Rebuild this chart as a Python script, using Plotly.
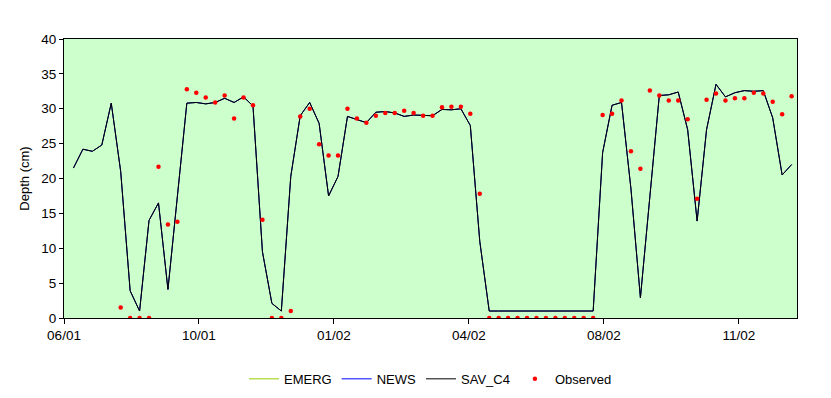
import datetime as dt
import plotly.graph_objects as go

# ---- data ----
start_date = dt.date(2001, 7, 5)          # first weekly model output
sav_c4 = [21.5, 24.2, 23.9, 24.8, 30.8, 21.0, 3.9, 1.0, 14.0, 16.5,
          4.1, 17.0, 30.8, 30.9, 30.7, 30.9, 31.5, 30.9, 31.7, 30.4,
          9.5, 2.1, 1.0, 20.3, 29.0, 30.9, 27.9, 17.5, 20.3, 28.9,
          28.5, 28.0, 29.5, 29.6, 29.4, 28.9, 29.1, 29.0, 29.0, 29.9,
          29.85, 30.0, 27.6, 11.0, 1.0, 1.0, 1.0, 1.0, 1.0, 1.0,
          1.0, 1.0, 1.0, 1.0, 1.0, 1.0, 23.7, 30.5, 30.9, 18.5,
          2.9, 17.5, 31.9, 32.0, 32.4, 27.0, 13.9, 27.0, 33.5, 31.7,
          32.3, 32.6, 32.5, 32.6, 28.7, 20.5, 22.0]
emerg = list(sav_c4)
news = list(sav_c4)
obs_start_week = 5
observed = [1.5, 0, 0, 0, 21.7, 13.4, 13.8, 32.8, 32.3, 31.6,
            30.9, 31.9, 28.6, 31.6, 30.5, 14.1, 0, 0, 1.0, 28.9,
            30.0, 24.9, 23.3, 23.3, 30.0, 28.6, 28.0, 29.0, 29.4, 29.4,
            29.7, 29.4, 29.0, 29.0, 30.2, 30.3, 30.3, 29.3, 17.8, 0,
            0, 0, 0, 0, 0, 0, 0, 0, 0, 0,
            0, 29.1, 29.3, 31.2, 23.9, 21.4, 32.6, 31.9, 31.2, 31.2,
            28.5, 17.1, 31.3, 32.2, 31.2, 31.5, 31.5, 32.3, 32.2, 31.0,
            29.2, 31.8]
axis_start = "2001-06-28"
axis_end = "2002-12-23"

model_dates = [start_date + dt.timedelta(weeks=i) for i in range(len(sav_c4))]
obs_dates = [start_date + dt.timedelta(weeks=obs_start_week + i) for i in range(len(observed))]

FONT = "Liberation Sans, Arial, sans-serif"

fig = go.Figure()
fig.add_trace(go.Scatter(x=model_dates, y=emerg, name="EMERG", mode="lines",
                         line=dict(color="#99CC00", width=1)))
fig.add_trace(go.Scatter(x=model_dates, y=news, name="NEWS", mode="lines",
                         line=dict(color="#0000FF", width=1)))
fig.add_trace(go.Scatter(x=model_dates, y=sav_c4, name="SAV_C4", mode="lines",
                         line=dict(color="#000000", width=1)))
fig.add_trace(go.Scatter(x=obs_dates, y=observed, name="Observed", mode="markers",
                         marker=dict(color="#FF0000", size=4.5)))

# page body has an 8px default margin, so the figure is 8px smaller and shifted
fig.update_layout(
    width=823, height=390,
    margin=dict(l=56, r=34, t=31, b=80, autoexpand=False),
    paper_bgcolor="white",
    plot_bgcolor="#CCFFCC",
    font=dict(family=FONT, size=13, color="black"),
    showlegend=True,
    legend=dict(orientation="h", x=0.5, xanchor="center",
                yref="container", y=0.049, yanchor="middle",
                font=dict(size=13), itemwidth=30, bgcolor="rgba(0,0,0,0)"),
    xaxis=dict(type="date", range=[axis_start, axis_end], automargin=False,
               tick0=axis_start, dtick=100 * 86400000, tickformat="%m/%y",
               showgrid=False, zeroline=False,
               showline=True, linecolor="black", linewidth=1, mirror=True,
               ticks="outside", ticklen=5, tickcolor="black",
               tickfont=dict(size=13.5)),
    yaxis=dict(range=[0, 40], dtick=5, tick0=0, automargin=False,
               showgrid=False, zeroline=False,
               showline=True, linecolor="black", linewidth=1, mirror=True,
               ticks="outside", ticklen=4, tickcolor="black",
               tickfont=dict(size=13.5),
               title=dict(text="Depth (cm)", font=dict(size=13), standoff=8)),
)

fig.write_html("out.html")
